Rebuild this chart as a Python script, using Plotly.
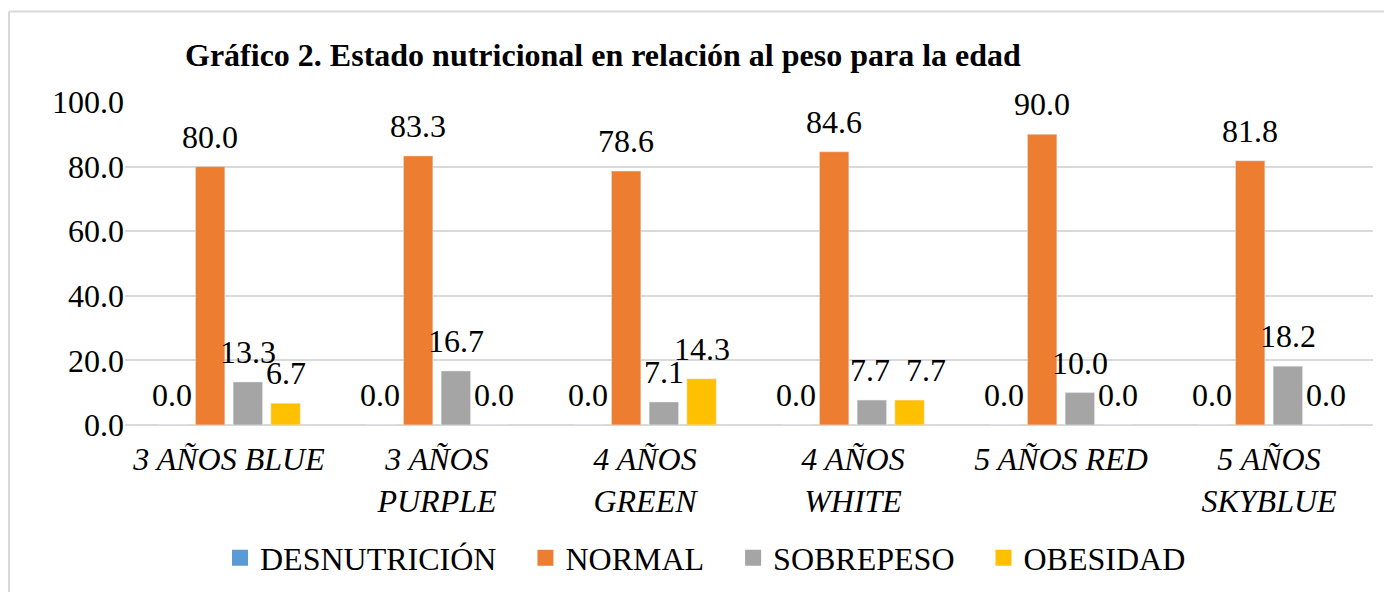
import plotly.graph_objects as go

categories = ["3 AÑOS BLUE", "3 AÑOS<br>PURPLE", "4 AÑOS<br>GREEN", "4 AÑOS<br>WHITE", "5 AÑOS RED", "5 AÑOS<br>SKYBLUE"]
series_names = ["DESNUTRICIÓN", "NORMAL", "SOBREPESO", "OBESIDAD"]
desnutricion = [0.0, 0.0, 0.0, 0.0, 0.0, 0.0]
normal = [80.0, 83.3, 78.6, 84.6, 90.0, 81.8]
sobrepeso = [13.3, 16.7, 7.1, 7.7, 10.0, 18.2]
obesidad = [6.7, 0.0, 14.3, 7.7, 0.0, 0.0]
y_ticks = [0, 20, 40, 60, 80, 100]

colors = ["#5B9BD5", "#ED7D31", "#A5A5A5", "#FFC000"]
FONT = "Liberation Serif"
FS = 32

# page body has an 8px margin, so figure coordinates are offset by 8px
OFF = 8
W, H = 1392 - OFF, 592 - OFF
L, R, T, B = 125 - OFF, 19, 102 - OFF, 165
pw, ph = W - L - R, H - T - B
BARGAP, GROUPGAP = 0.275, 0.22
slot = pw / len(categories) * (1 - BARGAP) / len(series_names)
# label nudges (px) where the original moved a label sideways to avoid overlap
label_nudge = {(3, 2): -2, (3, 3): 16}

all_series = [desnutricion, normal, sobrepeso, obesidad]

fig = go.Figure()
for i, (name, vals, col) in enumerate(zip(series_names, all_series, colors)):
    fig.add_trace(go.Bar(x=categories, y=vals, name=name, marker_color=col,
                         showlegend=False))
# legend entries with larger square symbols
for name, col in zip(series_names, colors):
    fig.add_trace(go.Scatter(x=[None], y=[None], mode="markers", name=name + "\u00a0\u00a0\u00a0",
                             marker=dict(symbol="square", size=16, color=col, line=dict(width=0)),
                             showlegend=True, hoverinfo="skip"))

annotations = []
for i, vals in enumerate(all_series):
    for j, (c, v) in enumerate(zip(categories, vals)):
        annotations.append(dict(
            x=c, y=v, xref="x", yref="y", text=f"{v:.1f}", showarrow=False,
            xanchor="center", yanchor="bottom",
            xshift=(i - (len(series_names) - 1) / 2) * slot + label_nudge.get((j, i), 0),
            yshift=10,
            font=dict(family=FONT, size=FS, color="#000000"),
        ))

bx = (1 - L) / pw
by = (H - B - 3) / ph

fig.update_layout(
    width=W, height=H,
    margin=dict(l=L, r=R, t=T, b=B),
    paper_bgcolor="white", plot_bgcolor="white",
    barmode="group", bargap=BARGAP, bargroupgap=GROUPGAP,
    font=dict(family=FONT, size=FS, color="#000000"),
    title=dict(text="<b>Gráfico 2. Estado nutricional en relación al peso para la edad</b>",
               x=(185 - OFF) / W, xanchor="left", xref="container",
               y=1 - (55 - OFF) / H, yanchor="middle", yref="container",
               font=dict(family=FONT, size=FS, color="#000000")),
    xaxis=dict(tickfont=dict(family=FONT, size=FS, style="italic"), showline=False,
               ticks="", showgrid=False, ticklabelstandoff=12),
    yaxis=dict(range=[0, 100], tickvals=y_ticks, tickformat=".1f",
               showgrid=True, gridcolor="#d9d9d9", gridwidth=2,
               zeroline=True, zerolinecolor="#d9d9d9", zerolinewidth=2,
               tickfont=dict(family=FONT, size=FS), ticks="", ticklen=0),
    legend=dict(orientation="h", x=(220 - OFF) / W, xanchor="left", xref="container",
                y=1 - (558 - OFF) / H, yanchor="middle", yref="container",
                font=dict(family=FONT, size=FS), itemsizing="trace"),
    showlegend=True,
    annotations=annotations,
    shapes=[
        dict(type="line", xref="paper", yref="paper", x0=bx, x1=1.2, y0=by, y1=by,
             line=dict(color="#d9d9d9", width=2)),
        dict(type="line", xref="paper", yref="paper", x0=bx, x1=bx, y0=by, y1=-1,
             line=dict(color="#d9d9d9", width=2)),
    ],
)

fig.write_html("out.html")
